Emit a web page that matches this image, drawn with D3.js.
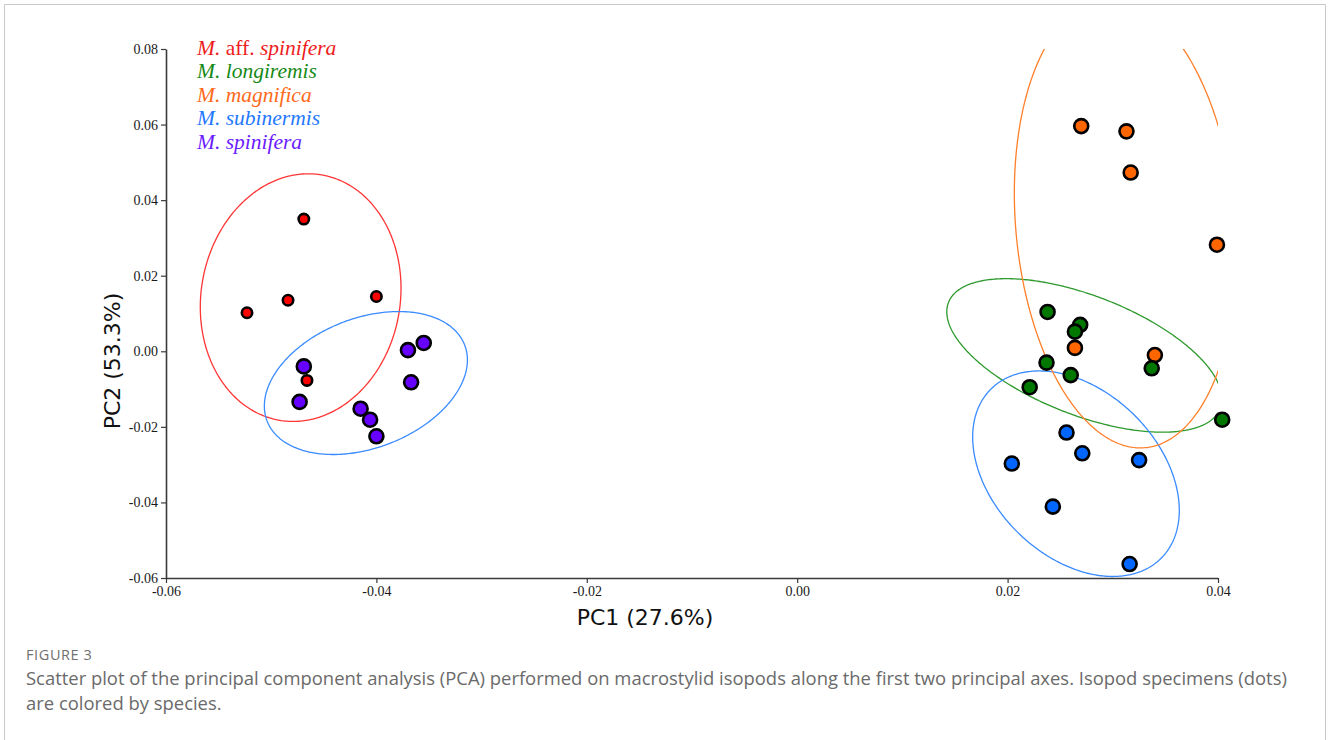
<!DOCTYPE html>
<html>
<head>
<meta charset="utf-8">
<script src="https://cdn.jsdelivr.net/npm/d3@7"></script>
<style>
  html, body { margin: 0; padding: 0; background: #fff; }
  svg { display: block; }
</style>
</head>
<body>
<svg id="chart" width="1328" height="740"></svg>
<script>
// ---------------- data ----------------
const xTicks = [-0.06, -0.04, -0.02, 0.00, 0.02, 0.04];
const yTicks = [-0.06, -0.04, -0.02, 0.00, 0.02, 0.04, 0.06, 0.08];
const xLabel = "PC1 (27.6%)";
const yLabel = "PC2 (53.3%)";

const speciesKeys = ["affSpinifera", "longiremis", "magnifica", "subinermis", "spinifera"];
const speciesGenus = ["M.", "M.", "M.", "M.", "M."];
const speciesQualifier = ["aff.", "", "", "", ""];
const speciesEpithet = ["spinifera", "longiremis", "magnifica", "subinermis", "spinifera"];

// PC1 / PC2 scores per species
const affSpiniferaX = [-0.0469, -0.0523, -0.0484, -0.0400, -0.0466];
const affSpiniferaY = [0.0350, 0.0102, 0.0135, 0.0145, -0.0077];
const spiniferaX = [-0.0469, -0.0473, -0.0370, -0.0355, -0.0367, -0.0415, -0.0406, -0.0400];
const spiniferaY = [-0.0040, -0.0134, 0.0003, 0.0022, -0.0082, -0.0152, -0.0181, -0.0225];
const magnificaX = [0.0270, 0.0313, 0.0317, 0.0399, 0.0264, 0.0340];
const magnificaY = [0.0596, 0.0582, 0.0473, 0.0282, 0.0009, -0.0010];
const longiremisX = [0.0238, 0.0269, 0.0264, 0.0237, 0.0260, 0.0221, 0.0337, 0.0404];
const longiremisY = [0.0104, 0.0070, 0.0052, -0.0030, -0.0063, -0.0095, -0.0045, -0.0181];
const subinermisX = [0.0256, 0.0271, 0.0204, 0.0325, 0.0243, 0.0316];
const subinermisY = [-0.0215, -0.0270, -0.0297, -0.0288, -0.0411, -0.0563];

// ellipses: centre, spread along PC1 / PC2, correlation
const ellipseKeys = ["affSpinifera", "spinifera", "longiremis", "subinermis", "magnifica"];
const ellipseColorKeys = ["affSpinifera", "subinermis", "longiremis", "subinermis", "magnifica"];
const ellipseCX = [-0.0472, -0.0410, 0.0273, 0.0265, 0.0312];
const ellipseCY = [0.0142, -0.0084, -0.0011, -0.0324, 0.0339];
const ellipseSX = [0.00954, 0.00965, 0.01308, 0.00982, 0.01056];
const ellipseSY = [0.03277, 0.01892, 0.02032, 0.02720, 0.05947];
const ellipseR = [0.076, 0.322, -0.568, -0.356, -0.134];

const captionTitle = "FIGURE 3";
const captionLines = [
  "Scatter plot of the principal component analysis (PCA) performed on macrostylid isopods along the first two principal axes. Isopod specimens (dots)",
  "are colored by species."
];

// ---------------- styles ----------------
const textColor = {affSpinifera: "#ee1c1c", longiremis: "#168a16", magnifica: "#ff6a1a", subinermis: "#1f78ff", spinifera: "#6a1cff"};
const fillColor = {affSpinifera: "#ff0000", longiremis: "#007800", magnifica: "#ff6600", subinermis: "#0066ff", spinifera: "#6600ff"};
const lineColor = {affSpinifera: "#ff3535", longiremis: "#2e9a2e", magnifica: "#ff7f2a", subinermis: "#3a8bff", spinifera: "#7a3cff"};
const dotRadius = {affSpinifera: 5.2, longiremis: 7, magnifica: 7, subinermis: 7, spinifera: 7};

const pointsBy = {
  affSpinifera: affSpiniferaX.map((x, i) => ({x, y: affSpiniferaY[i]})),
  spinifera: spiniferaX.map((x, i) => ({x, y: spiniferaY[i]})),
  magnifica: magnificaX.map((x, i) => ({x, y: magnificaY[i]})),
  longiremis: longiremisX.map((x, i) => ({x, y: longiremisY[i]})),
  subinermis: subinermisX.map((x, i) => ({x, y: subinermisY[i]}))
};
const drawOrder = ["spinifera", "subinermis", "magnifica", "longiremis", "affSpinifera"];

// ---------------- layout ----------------
const svg = d3.select("#chart");
const W = 1328, H = 740;
const plot = {left: 166, right: 1218, top: 49, bottom: 578};

const x = d3.scaleLinear().domain([-0.06, 0.04]).range([plot.left, plot.right]);
const y = d3.scaleLinear().domain([-0.06, 0.08]).range([plot.bottom, plot.top]);

// frame
svg.append("path")
  .attr("d", `M4.5,${H} V4.5 H1325.5 V${H}`)
  .attr("fill", "none").attr("stroke", "#c9c9c9").attr("stroke-width", 1);

// clip for ellipses
svg.append("defs").append("clipPath").attr("id", "plotClip")
  .append("rect")
  .attr("x", plot.left).attr("y", plot.top)
  .attr("width", plot.right - plot.left).attr("height", plot.bottom - plot.top);

// ellipses
const ellGen = d3.line().x(d => x(d[0])).y(d => y(d[1])).curve(d3.curveLinearClosed);
const gEll = svg.append("g").attr("clip-path", "url(#plotClip)");
ellipseKeys.forEach((k, i) => {
  const cx = ellipseCX[i], cy = ellipseCY[i], sx = ellipseSX[i], sy = ellipseSY[i], r = ellipseR[i];
  const pts = d3.range(0, 360, 1).map(a => {
    const t = a * Math.PI / 180;
    return [cx + sx * Math.cos(t), cy + sy * (r * Math.cos(t) + Math.sqrt(1 - r * r) * Math.sin(t))];
  });
  gEll.append("path").attr("d", ellGen(pts))
    .attr("fill", "none").attr("stroke", lineColor[ellipseColorKeys[i]]).attr("stroke-width", 1.3);
});

// axes
const fmt = d => d.toFixed(2);
const xAxis = d3.axisBottom(x).tickValues(xTicks).tickFormat(fmt).tickSize(5).tickSizeOuter(0).tickPadding(3);
const yAxis = d3.axisLeft(y).tickValues(yTicks).tickFormat(fmt).tickSize(5).tickSizeOuter(0).tickPadding(3);

const gx = svg.append("g").attr("transform", `translate(0,${plot.bottom})`).call(xAxis);
const gy = svg.append("g").attr("transform", `translate(${plot.left},0)`).call(yAxis);
[gx, gy].forEach(g => {
  g.select(".domain").attr("stroke", "#3a3a3a").attr("stroke-width", 1.6);
  g.selectAll(".tick line").attr("stroke", "#3a3a3a").attr("stroke-width", 1.2);
  g.selectAll(".tick text").attr("fill", "#1a1a1a")
    .style("font-family", "'Liberation Serif', 'Times New Roman', serif").style("font-size", "14px");
});

// axis titles
svg.append("text").text(xLabel)
  .attr("x", 645).attr("y", 625)
  .attr("text-anchor", "middle").attr("fill", "#111")
  .style("font-family", "'DejaVu Sans', Verdana, sans-serif").style("font-size", "22px");
svg.append("text").text(yLabel)
  .attr("transform", `translate(120,361) rotate(-90)`)
  .attr("text-anchor", "middle").attr("fill", "#111")
  .style("font-family", "'DejaVu Sans', Verdana, sans-serif").style("font-size", "22px");

// points
const gPts = svg.append("g");
drawOrder.forEach(k => {
  gPts.selectAll(null).data(pointsBy[k]).enter().append("circle")
    .attr("cx", d => x(d.x)).attr("cy", d => y(d.y)).attr("r", dotRadius[k])
    .attr("fill", fillColor[k]).attr("stroke", "#000").attr("stroke-width", 2.6);
});

// legend
const legend = svg.append("g")
  .style("font-family", "'Liberation Serif', 'Times New Roman', serif").style("font-size", "21.5px");
speciesKeys.forEach((k, i) => {
  const t = legend.append("text").attr("x", 197).attr("y", 55 + i * 23.4).attr("fill", textColor[k]);
  t.append("tspan").attr("font-style", "italic").text(speciesGenus[i] + " ");
  if (speciesQualifier[i]) t.append("tspan").text(speciesQualifier[i] + " ");
  t.append("tspan").attr("font-style", "italic").text(speciesEpithet[i]);
});

// caption
const capFont = "'Open Sans', 'Noto Sans', sans-serif";
svg.append("text").text(captionTitle)
  .attr("x", 26).attr("y", 660).attr("fill", "#707070")
  .style("font-family", capFont).style("font-size", "14.5px").style("letter-spacing", "0.6px");
const cap1 = svg.append("text").text(captionLines[0])
  .attr("x", 26).attr("y", 685).attr("fill", "#6a6a6a")
  .style("font-family", capFont).style("font-size", "17px");
// fit first line to the reference width
const targetW = 1262;
const w1 = cap1.node().getComputedTextLength();
const capSize = 17 * targetW / w1;
cap1.style("font-size", capSize + "px");
svg.append("text").text(captionLines[1])
  .attr("x", 26).attr("y", 710).attr("fill", "#6a6a6a")
  .style("font-family", capFont).style("font-size", capSize + "px");
</script>
</body>
</html>
